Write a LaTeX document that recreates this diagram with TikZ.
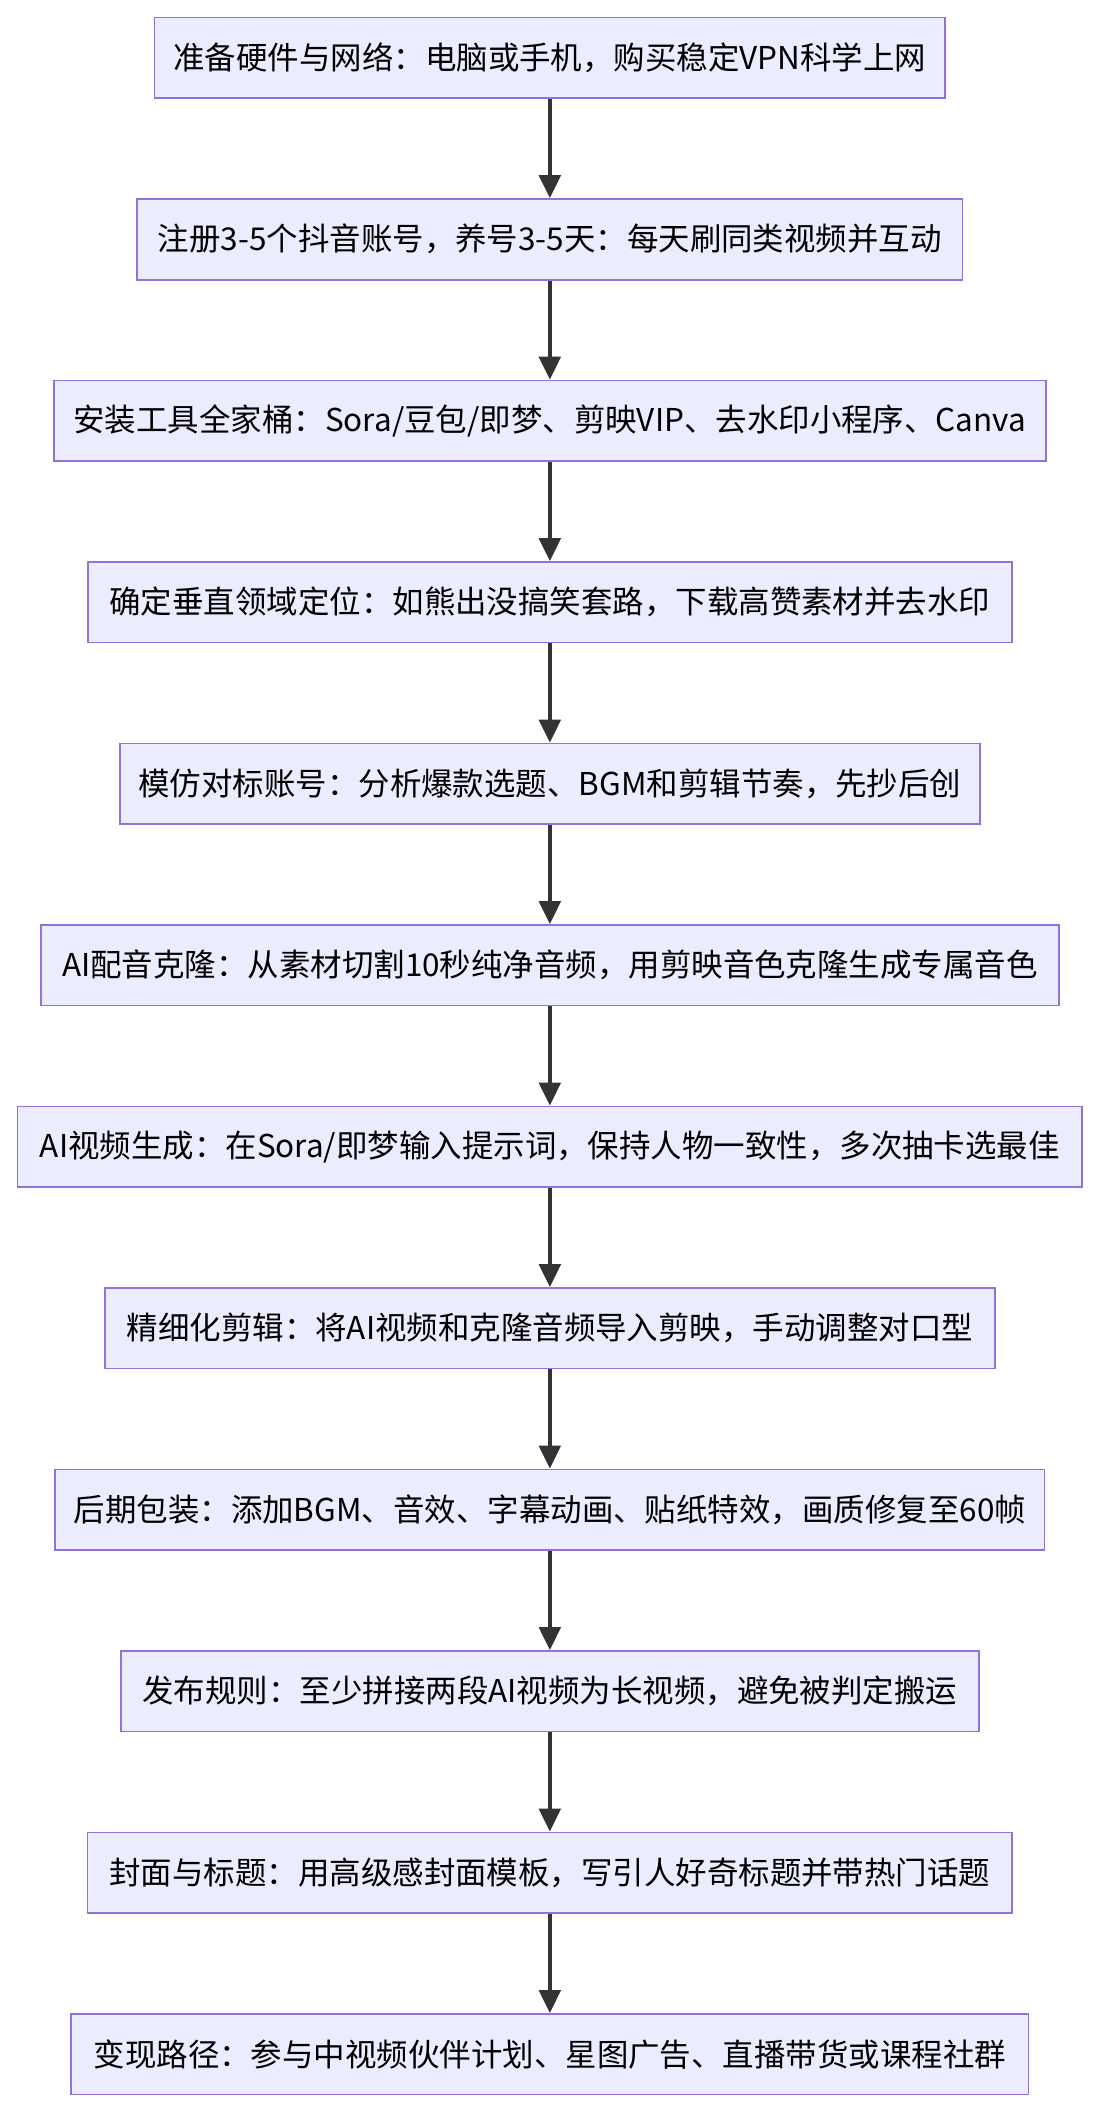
\documentclass[tikz,border=0pt]{standalone}
\usepackage{fontspec}
\setmainfont{Noto Sans CJK SC}
\usetikzlibrary{arrows.meta}
\definecolor{boxfill}{HTML}{ECECFF}
\definecolor{boxline}{HTML}{9370DB}
\definecolor{arr}{HTML}{333333}
\tikzset{stepbox/.style={draw=boxline,fill=boxfill,line width=1.3pt,minimum height=60pt,inner sep=0pt,font=\fontsize{23.4}{28}\selectfont,text=black},
conn/.style={draw=arr,line width=2.6pt,-{Triangle[length=17pt,width=16pt]}}}
\begin{document}
\begin{tikzpicture}[x=1pt,y=1pt]
\useasboundingbox (0,0) rectangle (818,-1568);
\def\bx#1#2#3#4{\node[stepbox,minimum width=#3pt] (#1) at (409,{-43-135*(#2-1)}) {#4};}
\bx{n1}{1}{588}{准备硬件与网络：电脑或手机，购买稳定VPN科学上网}
\bx{n2}{2}{614}{注册3-5个抖音账号，养号3-5天：每天刷同类视频并互动}
\bx{n3}{3}{738}{安装工具全家桶：Sora/豆包/即梦、剪映VIP、去水印小程序、Canva}
\bx{n4}{4}{687}{确定垂直领域定位：如熊出没搞笑套路，下载高赞素材并去水印}
\bx{n5}{5}{640}{模仿对标账号：分析爆款选题、BGM和剪辑节奏，先抄后创}
\bx{n6}{6}{757}{AI配音克隆：从素材切割10秒纯净音频，用剪映音色克隆生成专属音色}
\bx{n7}{7}{792}{AI视频生成：在Sora/即梦输入提示词，保持人物一致性，多次抽卡选最佳}
\bx{n8}{8}{662}{精细化剪辑：将AI视频和克隆音频导入剪映，手动调整对口型}
\bx{n9}{9}{736}{后期包装：添加BGM、音效、字幕动画、贴纸特效，画质修复至60帧}
\bx{n10}{10}{638}{发布规则：至少拼接两段AI视频为长视频，避免被判定搬运}
\bx{n11}{11}{688}{封面与标题：用高级感封面模板，写引人好奇标题并带热门话题}
\bx{n12}{12}{712}{变现路径：参与中视频伙伴计划、星图广告、直播带货或课程社群}
\foreach \a/\b in {n1/n2,n2/n3,n3/n4,n4/n5,n5/n6,n6/n7,n7/n8,n8/n9,n9/n10,n10/n11,n11/n12}
  \draw[conn] (\a.south) -- (\b.north);
\end{tikzpicture}
\end{document}
